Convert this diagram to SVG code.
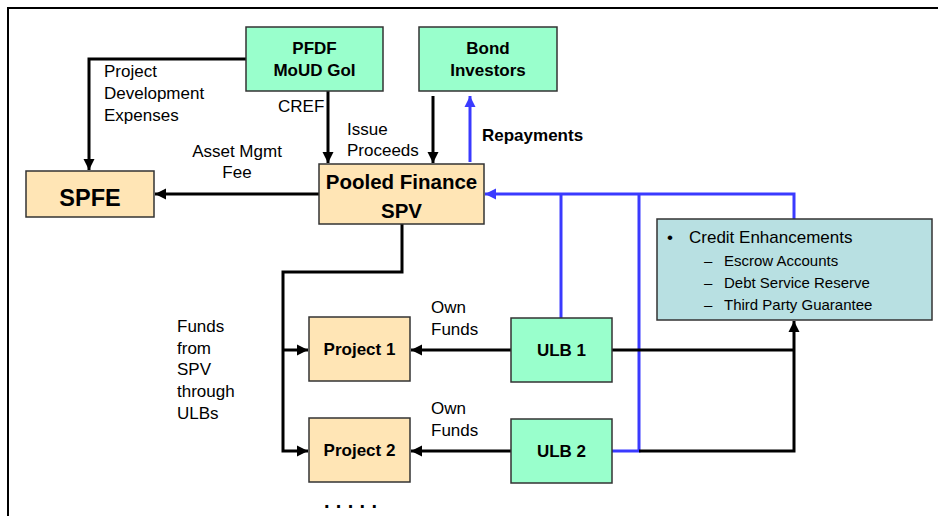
<svg xmlns="http://www.w3.org/2000/svg" width="938" height="516" viewBox="0 0 938 516">
<defs>
<style>
text{font-family:"Liberation Sans",Arial,sans-serif;fill:#000}
.b{font-weight:bold}
.n{stroke:#333;stroke-width:1.5}
.g{fill:#99ffcc}
.p{fill:#ffe5b5}
.t{fill:#b8e0e2}
.k{fill:none;stroke:#000;stroke-width:3}
.u{fill:none;stroke:#3a3aff;stroke-width:3}
</style>
<marker id="ak" markerUnits="userSpaceOnUse" markerWidth="12" markerHeight="12" viewBox="0 0 12 12" refX="11" refY="6" orient="auto"><path d="M0,0.5 L11,6 L0,11.5 Z" fill="#000"/></marker>
<marker id="au" markerUnits="userSpaceOnUse" markerWidth="12" markerHeight="12" viewBox="0 0 12 12" refX="11" refY="6" orient="auto"><path d="M0,0.5 L11,6 L0,11.5 Z" fill="#3a3aff"/></marker>
</defs>
<rect width="938" height="516" fill="#fff"/>
<path d="M8,516 V8 H938" fill="none" stroke="#000" stroke-width="2"/>
<g id="connectors">
<path class="k" d="M246,59 H89 V170" marker-end="url(#ak)"/>
<path class="k" d="M328,91 V163" marker-end="url(#ak)"/>
<path class="k" d="M433,96 V163" marker-end="url(#ak)"/>
<path class="u" d="M470,162 V96" marker-end="url(#au)"/>
<path class="k" d="M319,194 H155" marker-end="url(#ak)"/>
<path class="u" d="M794,219 V194 H485" marker-end="url(#au)"/>
<path class="u" d="M561,194 V318"/>
<path class="u" d="M639,194 V451 H612"/>
<path class="k" d="M612,350 H794"/>
<path class="k" d="M639,451 H794 V321" marker-end="url(#ak)"/>
<path class="k" d="M402,224 V272 H283 V451 H308" marker-end="url(#ak)"/>
<path class="k" d="M283,350 H308" marker-end="url(#ak)"/>
<path class="k" d="M511,350 H411" marker-end="url(#ak)"/>
<path class="k" d="M511,451 H411" marker-end="url(#ak)"/>
<text x="104" y="77" font-size="17">Project</text>
<text x="104" y="99" font-size="17">Development</text>
<text x="104" y="121" font-size="17">Expenses</text>
<text x="278" y="112" font-size="17">CREF</text>
<text x="347" y="135" font-size="17">Issue</text>
<text x="347" y="156" font-size="17">Proceeds</text>
<text x="237" y="157" font-size="17" text-anchor="middle">Asset Mgmt</text>
<text x="237" y="178" font-size="17" text-anchor="middle">Fee</text>
<text x="482" y="141" font-size="17" class="b">Repayments</text>
<text x="431" y="313" font-size="17">Own</text>
<text x="431" y="335" font-size="17">Funds</text>
<text x="431" y="414" font-size="17">Own</text>
<text x="431" y="436" font-size="17">Funds</text>
<text x="177" y="332" font-size="17">Funds</text>
<text x="177" y="354" font-size="17">from</text>
<text x="177" y="375" font-size="17">SPV</text>
<text x="177" y="397" font-size="17">through</text>
<text x="177" y="419" font-size="17">ULBs</text>
<text x="324" y="508" font-size="20" class="b" letter-spacing="6.3">.....</text>
</g>
<g id="pfdf"><rect class="n g" x="246" y="27" width="137" height="64"/><text class="b" x="314.5" y="54" font-size="17" text-anchor="middle">PFDF</text><text class="b" x="314.5" y="76" font-size="17" text-anchor="middle">MoUD GoI</text></g>
<g id="bond"><rect class="n g" x="419" y="27" width="138" height="64"/><text class="b" x="488" y="54" font-size="17" text-anchor="middle">Bond</text><text class="b" x="488" y="76" font-size="17" text-anchor="middle">Investors</text></g>
<g id="spfe"><rect class="n p" x="26" y="171" width="128" height="46"/><text class="b" x="90" y="206" font-size="23.5" text-anchor="middle">SPFE</text></g>
<g id="spv"><rect class="n p" x="319" y="164" width="165" height="60"/><text class="b" x="401.5" y="189" font-size="20.5" text-anchor="middle">Pooled Finance</text><text class="b" x="401.5" y="218" font-size="20.5" text-anchor="middle">SPV</text></g>
<g id="project1"><rect class="n p" x="309" y="317" width="101" height="64"/><text class="b" x="359.5" y="355" font-size="17" text-anchor="middle">Project 1</text></g>
<g id="project2"><rect class="n p" x="309" y="418" width="101" height="64"/><text class="b" x="359.5" y="456" font-size="17" text-anchor="middle">Project 2</text></g>
<g id="ulb1"><rect class="n g" x="511" y="318" width="101" height="64"/><text class="b" x="561.5" y="356" font-size="17" text-anchor="middle">ULB 1</text></g>
<g id="ulb2"><rect class="n g" x="511" y="419" width="101" height="64"/><text class="b" x="561.5" y="457" font-size="17" text-anchor="middle">ULB 2</text></g>
<g id="credit"><rect class="n t" x="657" y="219" width="275" height="101"/>
<text x="667" y="243" font-size="17">•</text>
<text x="689" y="243" font-size="17">Credit Enhancements</text>
<text x="704" y="266" font-size="15">–</text><text x="724" y="266" font-size="15">Escrow Accounts</text>
<text x="704" y="288" font-size="15">–</text><text x="724" y="288" font-size="15">Debt Service Reserve</text>
<text x="704" y="310" font-size="15">–</text><text x="724" y="310" font-size="15">Third Party Guarantee</text>
</g>
</svg>
